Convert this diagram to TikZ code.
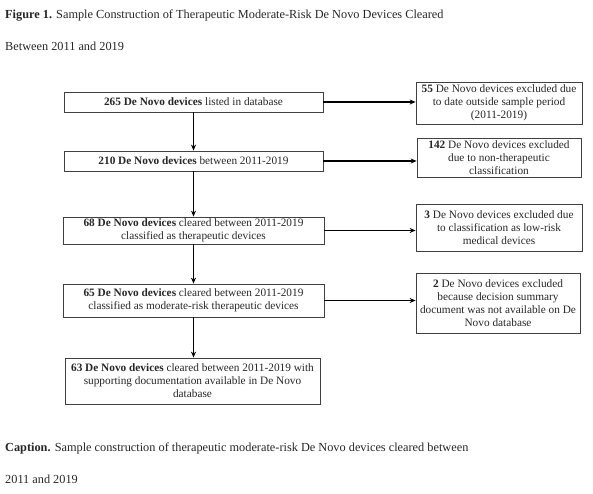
\documentclass[tikz,border=0pt]{standalone}
\usepackage{fontspec}
\setmainfont{Liberation Serif}
\usetikzlibrary{arrows.meta}
\begin{document}
\begin{tikzpicture}[x=1pt,y=-1pt,
  box/.style={draw=black!75, line width=0.8pt, align=center, inner sep=0pt,
    font=\fontsize{11.3}{13}\selectfont, text=black!85},
  conn/.style={draw=black, line width=1.2pt, -{Stealth[length=6pt,width=5pt]}},
  ttl/.style={anchor=base west, inner sep=0pt, font=\fontsize{12.3}{14}\selectfont, text=black!85}]
\useasboundingbox (0,0) rectangle (593,494);
\node[ttl] (t1) at (5,19) {\textbf{Figure 1.} Sample Construction of Therapeutic Moderate-Risk De Novo Devices Cleared};
\node[ttl] (t2) at (5,51) {Between 2011 and 2019};
\node[ttl] (c1) at (5,451) {\textbf{Caption.} Sample construction of therapeutic moderate-risk De Novo devices cleared between};
\node[ttl] (c2) at (5,483) {2011 and 2019};

\node[box, minimum width=259pt, minimum height=20pt] (b1) at (193.5,102) {\textbf{265 De Novo devices} listed in database};
\node[box, minimum width=259pt, minimum height=20pt] (b2) at (193.5,161) {\textbf{210 De Novo devices} between 2011-2019};
\node[box, minimum width=261pt, minimum height=27pt] (b3) at (193.5,230.5) {\textbf{68 De Novo devices} cleared between 2011-2019\\classified as therapeutic devices};
\node[box, minimum width=261pt, minimum height=33pt] (b4) at (193.5,300.5) {\textbf{65 De Novo devices} cleared between 2011-2019\\classified as moderate-risk therapeutic devices};
\node[box, minimum width=255pt, minimum height=46pt] (b5) at (192.5,381) {\textbf{63 De Novo devices} cleared between 2011-2019 with\\supporting documentation available in De Novo\\database};

\node[box, minimum width=166pt, minimum height=42pt] (r1) at (499,103) {\textbf{55} De Novo devices excluded due\\to date outside sample period\\(2011-2019)};
\node[box, minimum width=164pt, minimum height=39pt] (r2) at (499,157.5) {\textbf{142} De Novo devices excluded\\due to non-therapeutic\\classification};
\node[box, minimum width=166pt, minimum height=47pt] (r3) at (499,227.5) {\textbf{3} De Novo devices excluded due\\to classification as low-risk\\medical devices};
\node[box, minimum width=164pt, minimum height=60pt] (r4) at (498,303) {\textbf{2} De Novo devices excluded\\because decision summary\\document was not available on De\\Novo database};

\draw[conn] (b1.south) -- (b2.north);
\draw[conn] (b2.south) -- (b3.north);
\draw[conn] (b3.south) -- (b4.north);
\draw[conn] (b4.south) -- (b4.south |- b5.north);
\draw[conn] (b1.east) -- (b1.east -| r1.west);
\draw[conn] (b2.east) -- (b2.east -| r2.west);
\draw[conn] (b3.east) -- (b3.east -| r3.west);
\draw[conn] (b4.east) -- (b4.east -| r4.west);
\end{tikzpicture}
\end{document}
